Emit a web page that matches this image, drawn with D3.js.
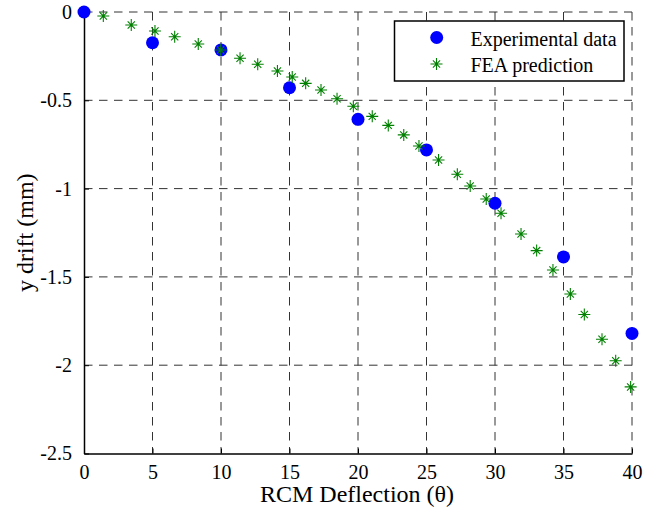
<!DOCTYPE html>
<html>
<head>
<meta charset="utf-8">
<script src="https://cdn.jsdelivr.net/npm/d3@7"></script>
<style>
  html, body { margin: 0; padding: 0; background: #fff; }
  svg { display: block; }
  text { font-family: "Liberation Serif", "Times New Roman", serif; fill: #000; }
</style>
</head>
<body>
<svg id="chart" width="645" height="510"></svg>
<script>
// Measured deflection angles (deg) and y drift (mm)
const expTheta = [0, 5, 10, 15, 20, 25, 30, 35, 40];
const expDrift = [0, -0.174, -0.215, -0.429, -0.608, -0.781, -1.083, -1.387, -1.82];

// Finite element prediction
const feaTheta = [1.41, 3.45, 5.18, 6.62, 8.34, 9.98, 11.39, 12.68, 14.12, 15.20,
                  16.18, 17.30, 18.47, 19.66, 21.04, 22.21, 23.34, 24.45, 25.88, 27.25,
                  28.19, 29.36, 30.44, 31.90, 33.04, 34.23, 35.50, 36.52, 37.81, 38.81, 39.90];
const feaDrift = [-0.023, -0.074, -0.108, -0.140, -0.181, -0.215, -0.262, -0.296, -0.334, -0.368,
                  -0.404, -0.442, -0.491, -0.534, -0.591, -0.642, -0.696, -0.759, -0.838, -0.919,
                  -0.985, -1.059, -1.140, -1.257, -1.351, -1.461, -1.597, -1.713, -1.853, -1.975, -2.123];

const xTicks = [0, 5, 10, 15, 20, 25, 30, 35, 40];
const yTicks = [0, -0.5, -1, -1.5, -2, -2.5];
const xTickLabels = ["0", "5", "10", "15", "20", "25", "30", "35", "40"];
const yTickLabels = ["0", "-0.5", "-1", "-1.5", "-2", "-2.5"];
const seriesNames = ["Experimental data", "FEA prediction"];

const svg = d3.select("#chart");
const x = d3.scaleLinear().domain([0, 40]).range([84, 632]);
const y = d3.scaleLinear().domain([-2.5, 0]).range([453.5, 12]);

// Dashed grid
const grid = svg.append("g").attr("stroke", "#333").attr("stroke-width", 1)
  .attr("stroke-dasharray", "8.5,6.5").attr("fill", "none");
grid.selectAll("line.v").data(xTicks.slice(1)).join("line")
  .attr("x1", d => x(d)).attr("x2", d => x(d))
  .attr("y1", y(0)).attr("y2", y(-2.5));
grid.selectAll("line.h").data(yTicks.slice(0, -1)).join("line")
  .attr("x1", x(0)).attr("x2", x(40))
  .attr("y1", d => y(d)).attr("y2", d => y(d));

// Axes with inward ticks
const xAxis = d3.axisBottom(x).tickValues(xTicks).tickFormat((d, i) => xTickLabels[i])
  .tickSizeInner(-5).tickSizeOuter(0).tickPadding(11);
const yAxis = d3.axisLeft(y).tickValues(yTicks).tickFormat((d, i) => yTickLabels[i])
  .tickSizeInner(-5).tickSizeOuter(0).tickPadding(12);

const gx = svg.append("g").attr("transform", `translate(0,${y(-2.5)})`).call(xAxis);
const gy = svg.append("g").attr("transform", `translate(${x(0)},0)`).call(yAxis);
[gx, gy].forEach(g => {
  g.select(".domain").attr("stroke", "#000").attr("stroke-width", 1.5);
  g.selectAll(".tick line").attr("stroke", "#000").attr("stroke-width", 1);
  g.selectAll(".tick text").attr("font-family", "Liberation Serif").attr("font-size", 20).attr("fill", "#000");
});

// Axis titles
svg.append("text").attr("x", 357).attr("y", 502).attr("text-anchor", "middle")
  .attr("font-size", 24).text("RCM Deflection (\u03b8)");
svg.append("text").attr("transform", `translate(33,${(y(0) + y(-2.5)) / 2}) rotate(-90)`)
  .attr("text-anchor", "middle").attr("font-size", 24).text("y drift (mm)");

// Asterisk marker path: "+" plus a shorter "x"
function starPath(cx, cy) {
  const a = 6, b = 3.6;
  return `M${cx - a},${cy}L${cx + a},${cy}M${cx},${cy - a}L${cx},${cy + a}` +
         `M${cx - b},${cy - b}L${cx + b},${cy + b}M${cx - b},${cy + b}L${cx + b},${cy - b}`;
}

// Experimental points
svg.append("g").selectAll("circle").data(expTheta).join("circle")
  .attr("cx", d => x(d)).attr("cy", (d, i) => y(expDrift[i]))
  .attr("r", 6.5).attr("fill", "#0000ff");

// FEA points
svg.append("g").selectAll("path").data(feaTheta).join("path")
  .attr("d", (d, i) => starPath(x(d), y(feaDrift[i])))
  .attr("stroke", "#008000").attr("stroke-width", 1.1).attr("fill", "none");

// Legend
const lg = svg.append("g");
lg.append("rect").attr("x", 394.5).attr("y", 21).attr("width", 229.5).attr("height", 60)
  .attr("fill", "#fff").attr("stroke", "#000").attr("stroke-width", 1.5);
lg.append("circle").attr("cx", 436.7).attr("cy", 37.5).attr("r", 6.5).attr("fill", "#0000ff");
lg.append("path").attr("d", starPath(436.5, 64)).attr("stroke", "#008000")
  .attr("stroke-width", 1.1).attr("fill", "none");
lg.append("text").attr("x", 470.5).attr("y", 45.5).attr("font-size", 20).text(seriesNames[0]);
lg.append("text").attr("x", 470.5).attr("y", 72).attr("font-size", 20).text(seriesNames[1]);
</script>
</body>
</html>
